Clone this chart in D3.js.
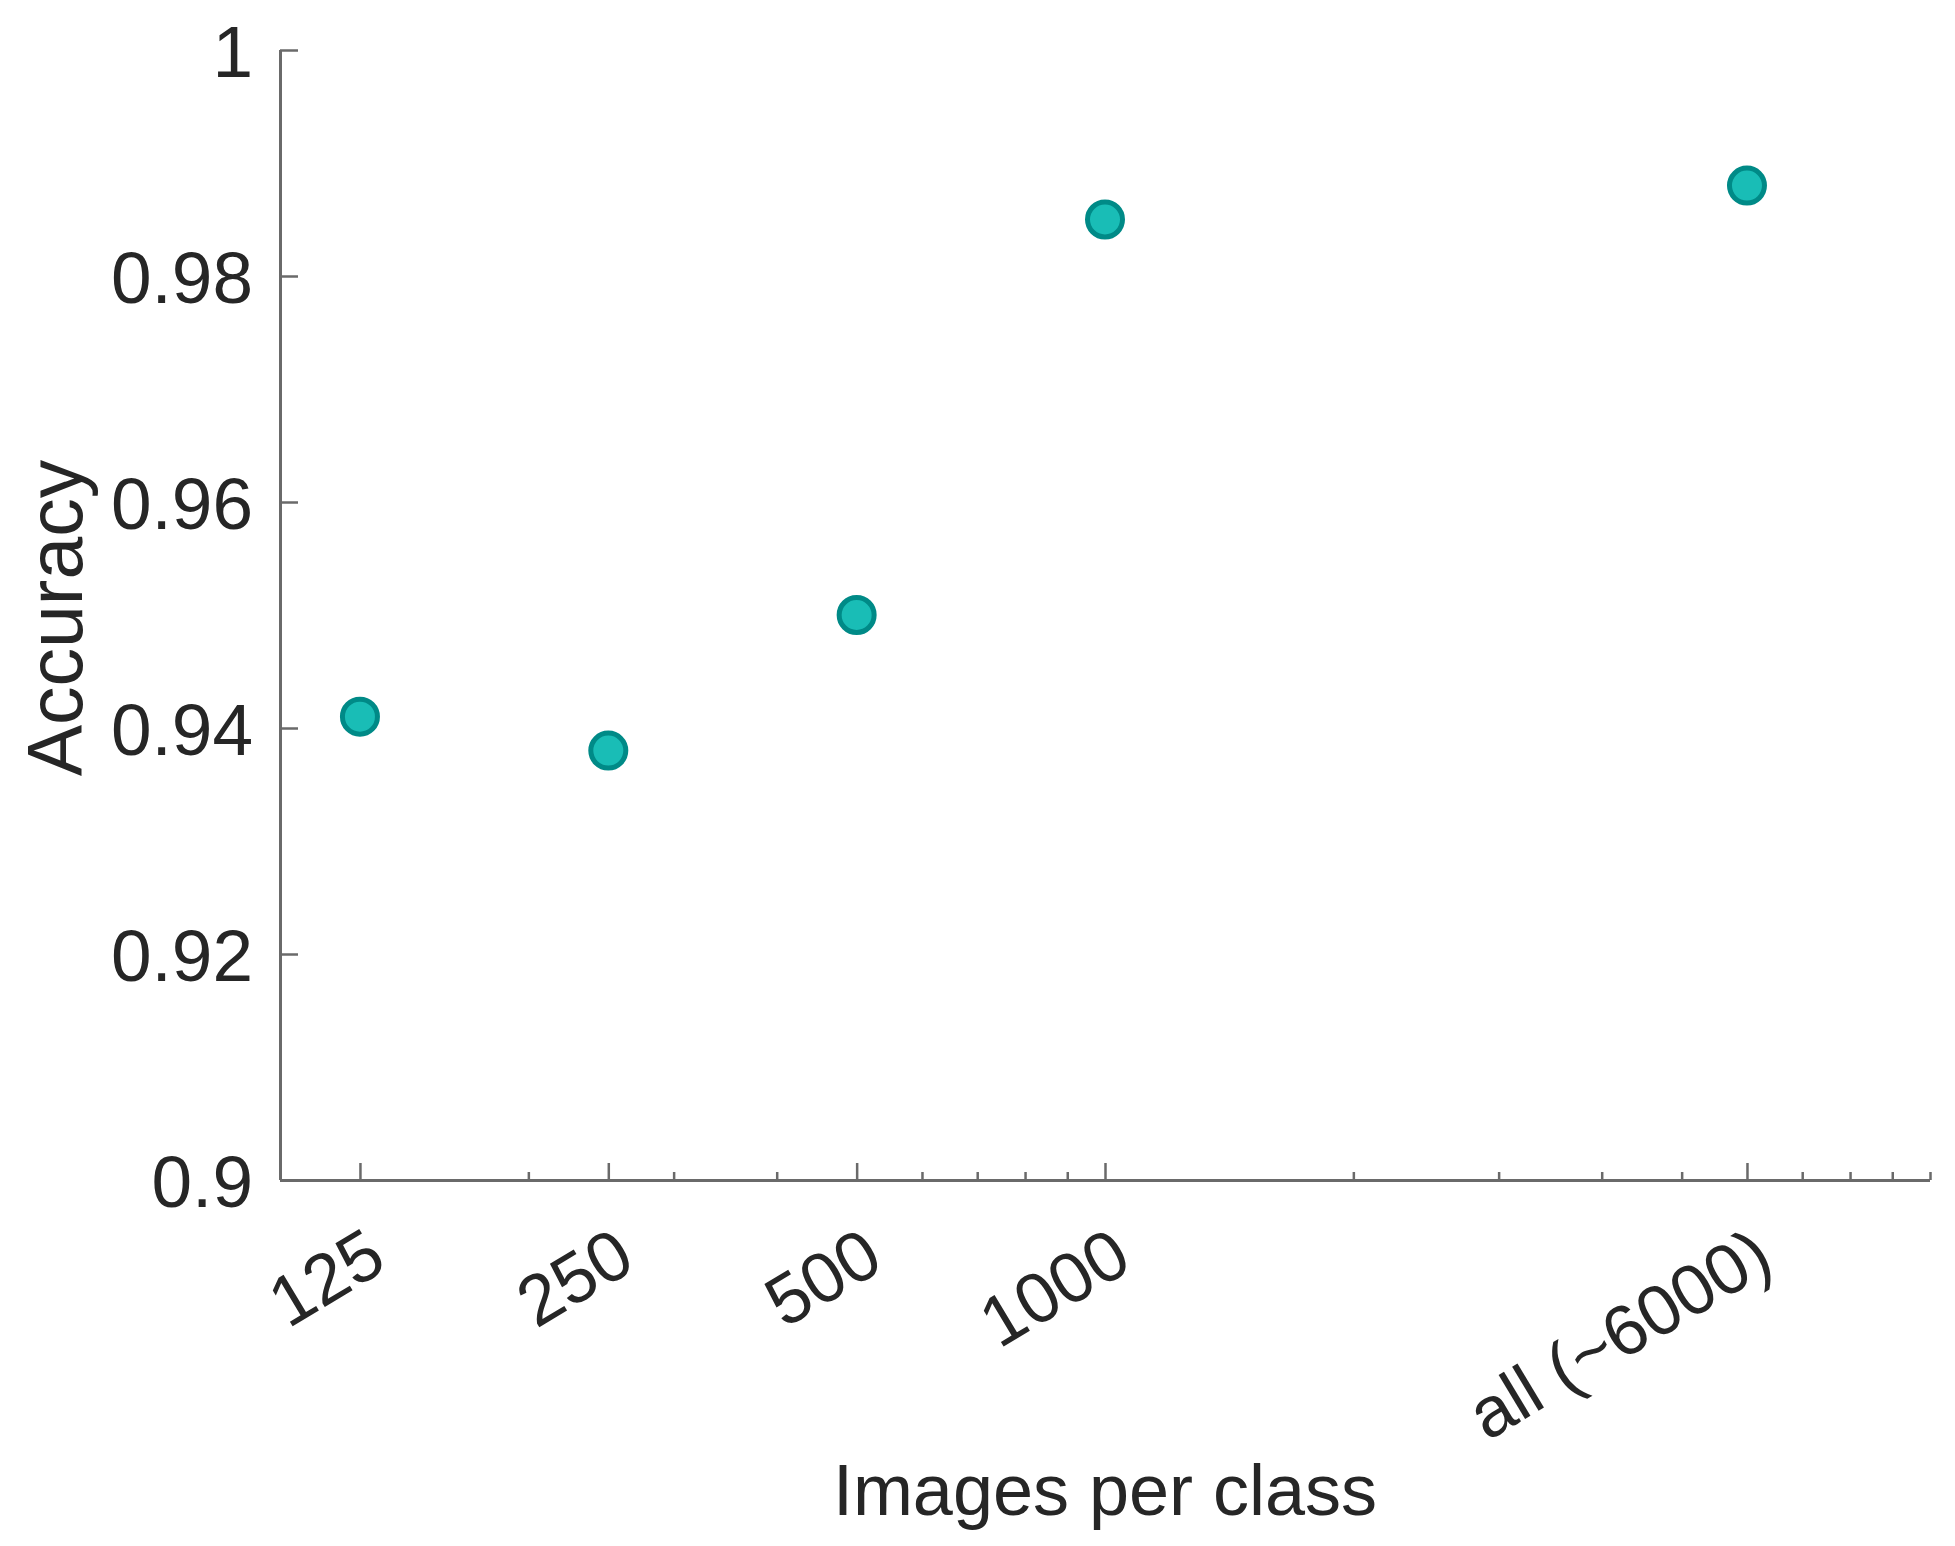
<!DOCTYPE html>
<html>
<head>
<meta charset="utf-8">
<script src="https://cdn.jsdelivr.net/npm/d3@7"></script>
<style>
  html, body { margin: 0; padding: 0; background: #ffffff; }
  svg { display: block; }
  text { font-family: "Liberation Sans", Arial, Helvetica, sans-serif; fill: #262626; }
</style>
</head>
<body>
<svg id="chart" width="1955" height="1546"></svg>
<script>
// ---- data ----
const imagesPerClass = [125, 250, 500, 1000, 6000];
const accuracy = [0.941, 0.938, 0.950, 0.985, 0.988];
const xTickValues = [125, 250, 500, 1000, 6000];
const xTickLabels = ["125", "250", "500", "1000", "all (~6000)"];
const xMinorTicks = [200, 300, 400, 600, 700, 800, 900, 2000, 3000, 4000, 5000, 7000, 8000, 9000, 10000];
const yTickValues = [0.9, 0.92, 0.94, 0.96, 0.98, 1];
const yTickLabels = ["0.9", "0.92", "0.94", "0.96", "0.98", "1"];
const xDomain = [100, 10000];
const yDomain = [0.9, 1];
const xTitle = "Images per class";
const yTitle = "Accuracy";

// ---- layout ----
const plotL = 280, plotR = 1930, plotT = 50, plotB = 1180;
const axisColor = "#6a6a6a";

const svg = d3.select("#chart");
const x = d3.scaleLog().domain(xDomain).range([plotL, plotR]);
const y = d3.scaleLinear().domain(yDomain).range([plotB, plotT]);

// x axis minor ticks
const gxMinor = svg.append("g")
  .attr("transform", `translate(0,${plotB})`)
  .call(d3.axisBottom(x).tickValues(xMinorTicks).tickSize(-8).tickFormat(""));
gxMinor.select(".domain").remove();
gxMinor.selectAll("line").attr("stroke", axisColor).attr("stroke-width", 2.5);

// x axis major ticks
const gx = svg.append("g")
  .attr("transform", `translate(0,${plotB})`)
  .call(d3.axisBottom(x).tickValues(xTickValues).tickSizeInner(-17).tickSizeOuter(0)
    .tickFormat((d, i) => xTickLabels[i]));
gx.select(".domain").attr("stroke", axisColor).attr("stroke-width", 3)
  .attr("d", `M${plotL},0.5H${plotR}`);
gx.selectAll("line").attr("stroke", axisColor).attr("stroke-width", 2.5);
gx.selectAll("text")
  .attr("x", 0).attr("y", 0).attr("dy", null)
  .attr("text-anchor", "end")
  .attr("font-size", 71)
  .attr("font-family", "Liberation Sans, Arial, sans-serif")
  .attr("fill", "#262626")
  .attr("transform", "translate(29,88) rotate(-31)");

// y axis
const gy = svg.append("g")
  .attr("transform", `translate(${plotL},0)`)
  .call(d3.axisLeft(y).tickValues(yTickValues).tickSizeInner(-18).tickSizeOuter(0)
    .tickFormat((d, i) => yTickLabels[i]));
gy.select(".domain").attr("stroke", axisColor).attr("stroke-width", 3)
  .attr("d", `M0.5,${plotT}V${plotB}`);
gy.selectAll("line").attr("stroke", axisColor).attr("stroke-width", 2.5);
gy.selectAll("text")
  .attr("x", -27).attr("dy", "0.36em")
  .attr("text-anchor", "end")
  .attr("font-size", 73)
  .attr("font-family", "Liberation Sans, Arial, sans-serif")
  .attr("fill", "#262626");

// points
svg.append("g").selectAll("circle")
  .data(imagesPerClass.map((v, i) => ({ n: v, acc: accuracy[i] })))
  .join("circle")
  .attr("cx", d => x(d.n))
  .attr("cy", d => y(d.acc))
  .attr("r", 17.5)
  .attr("fill", "#19bdb6")
  .attr("stroke", "#008a87")
  .attr("stroke-width", 5);

// titles
svg.append("text")
  .attr("x", (plotL + plotR) / 2)
  .attr("y", 1515)
  .attr("text-anchor", "middle")
  .attr("font-size", 72)
  .text(xTitle);

svg.append("text")
  .attr("transform", `translate(82,${(plotT + plotB) / 2 + 3}) rotate(-90)`)
  .attr("text-anchor", "middle")
  .attr("font-size", 77)
  .text(yTitle);
</script>
</body>
</html>
